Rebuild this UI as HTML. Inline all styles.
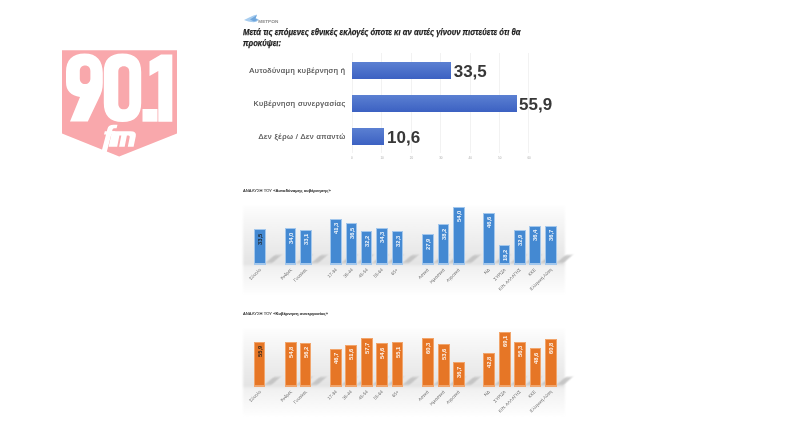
<!DOCTYPE html>
<html><head><meta charset="utf-8">
<style>
html,body{margin:0;padding:0;background:#fff;width:800px;height:421px;overflow:hidden;position:relative;font-family:"Liberation Sans",sans-serif}
.abs{position:absolute}
.title{position:absolute;left:243px;top:27.3px;font-weight:bold;font-style:italic;font-size:8.4px;line-height:10.4px;color:#1e1e1e;width:400px;white-space:nowrap;transform:scaleX(0.918);transform-origin:0 0;-webkit-text-stroke:0.25px #1e1e1e}
.lab{position:absolute;right:454.5px;font-size:7.6px;color:#4a4a4a;white-space:nowrap;letter-spacing:0.42px;-webkit-text-stroke:0.15px #4a4a4a}
.hbar{position:absolute;left:352px;background:linear-gradient(#5b80d2,#3c61c2);}
.val{position:absolute;font-size:17px;font-weight:bold;color:#383838;white-space:nowrap;line-height:16px;}
.grid{position:absolute;top:53px;height:100px;width:1px;background:#f2f2f2}
.tick{position:absolute;top:156px;font-size:3px;color:#aaa}
.t2{position:absolute;left:243px;font-size:4.1px;color:#333;white-space:nowrap;-webkit-text-stroke:0.1px #333;letter-spacing:0.07px}
.panel{position:absolute;left:243px;width:322px;filter:blur(1.2px)}

.bar{position:absolute;width:9.6px;border:1.4px solid;border-bottom-width:2.2px;margin-left:-0.2px}
.bb{background:#4489d2;border-color:#a3c7ec}
.ob{background:#e67626;border-color:#f1a56c}
.shadow{position:absolute;width:7px;height:8px;background:#c0c0c0;transform:skewX(-48deg);filter:blur(1.2px);opacity:0.85}
.bl{position:absolute;font-size:5.8px;font-weight:bold;transform:rotate(-90deg);transform-origin:0 0;white-space:nowrap;line-height:6px;opacity:0.9}
.xl{position:absolute;font-size:4.4px;color:#666;transform:rotate(-45deg) translateX(-100%);transform-origin:0 0;white-space:nowrap;line-height:4px}
#wrap{position:absolute;left:0;top:0;width:800px;height:421px;filter:blur(0.6px)}
</style></head><body><div id="wrap">
<svg class="abs" style="left:0;top:0" width="800" height="421">
  <polygon points="62,50.2 177,50.2 177,133.5 119.2,156.5 62,133.5" fill="#f9a8ac"/>
  <g fill="#fff">
    <path fill-rule="evenodd" d="M84.5,53.5 C97,53.5 102.8,61 102.8,73 L102.8,83 C102.8,89 101.5,93 99,98 L87.8,121.5 L70,121.5 L80,97 C71,95.5 66,91 66,82 L66,72 C66,60 72.5,53.5 84.5,53.5 Z M85.1,65.4 C82,65.4 79.8,67.5 79.8,71 L79.8,78.5 C79.8,82 82,84 85.1,84 C88.2,84 90.4,82 90.4,78.5 L90.4,71 C90.4,67.5 88.2,65.4 85.1,65.4 Z"/>
    <path fill-rule="evenodd" d="M122.5,53.5 C135.5,53.5 141.2,60 141.2,72 L141.2,103 C141.2,115 135.5,122 122.5,122 C109.5,122 103.8,115 103.8,103 L103.8,72 C103.8,60 109.5,53.5 122.5,53.5 Z M123.8,66.3 C120.3,66.3 118.3,68.5 118.3,72 L118.3,103.5 C118.3,107 120.3,109.3 123.8,109.3 C127.3,109.3 129.3,107 129.3,103.5 L129.3,72 C129.3,68.5 127.3,66.3 123.8,66.3 Z"/>
    <rect x="142.5" y="109" width="15" height="12.7"/>
    <path d="M161,54.6 L172.3,54.6 L172.3,121.7 L158.3,121.7 L158.3,71 L149.5,76 L149.5,61.2 Z"/>
    <path d="M101.3,152.4 L106.6,152.4 L111.3,134.5 L114.6,134.5 L115.4,131.2 L112.1,131.2 L112.5,129.6 Q113,128.3 114.6,128.3 L116.6,128.3 L117.5,124.8 L113.5,124.8 Q108.5,124.8 107.4,129 L106.8,131.2 L104.8,131.2 L104,134.5 L106,134.5 Z"/>
    <path d="M108.6,146.7 L112,131.2 L130.5,131.2 Q136.8,131.2 135.8,136.2 L133.6,146.7 L127.8,146.7 L129.7,137.3 Q130,135.6 128.6,135.6 L126.9,135.6 L124.7,146.7 L119.1,146.7 L121.3,135.6 L119.4,135.6 L117.2,146.7 Z"/>
  </g>
</svg>
<svg class="abs" style="left:240px;top:10px" width="45" height="16"><path d="M4,10 C8,8 12,5.5 17,4.5 L15.5,8 L19,9.5 L16,12 C12,12.5 7,11.5 4,10 Z" fill="#a8cdef"/><path d="M10,9.5 L17,5 L15.5,8.5 L18,10 L14,11.5 Z" fill="#6fa6dc"/><text x="18.3" y="12.6" font-size="3.6" font-family="Liberation Sans" font-weight="bold" fill="#8a8a8a" textLength="20" lengthAdjust="spacingAndGlyphs">ΜΕΤΡΩΝ</text></svg>
<div class="title">Μετά τις επόμενες εθνικές εκλογές όποτε κι αν αυτές γίνουν πιστεύετε ότι θα<br>προκύψει:</div>
<div class="grid" style="left:352.0px"></div><div class="tick" style="left:351.0px">0</div>
<div class="grid" style="left:381.4px"></div><div class="tick" style="left:380.4px">10</div>
<div class="grid" style="left:410.8px"></div><div class="tick" style="left:409.8px">20</div>
<div class="grid" style="left:440.2px"></div><div class="tick" style="left:439.2px">30</div>
<div class="grid" style="left:469.6px"></div><div class="tick" style="left:468.6px">40</div>
<div class="grid" style="left:499.0px"></div><div class="tick" style="left:498.0px">50</div>
<div class="grid" style="left:528.4px"></div><div class="tick" style="left:527.4px">60</div>
<div class="lab" style="top:66px">Αυτοδύναμη κυβέρνηση ή</div>
<div class="lab" style="top:99px">Κυβέρνηση συνεργασίας</div>
<div class="lab" style="top:132px">Δεν ξέρω / Δεν απαντώ</div>
<div class="hbar" style="top:62px;width:98.5px;height:17px"></div>
<div class="hbar" style="top:95px;width:164.5px;height:17px"></div>
<div class="hbar" style="top:128px;width:31.5px;height:17px"></div>
<div class="val" style="left:453.7px;top:64px">33,5</div>
<div class="val" style="left:519px;top:97px">55,9</div>
<div class="val" style="left:387px;top:130px">10,6</div>
<div class="t2" style="top:187.9px">ΑΝΑΛΥΣΗ ΤΟΥ «<b>Αυτοδύναμης κυβέρνησης</b>»</div>
<div class="panel" style="top:206px;height:88.30000000000001px;background:linear-gradient(#fdfdfd 0px,#f1f1f1 26px,#e4e4e4 58.30000000000001px,#f0f0f0 60.30000000000001px,#f7f7f7 74.30000000000001px,#fff 90.30000000000001px)"></div>
<div class="shadow" style="left:269.7px;top:254.8px"></div>
<div class="shadow" style="left:300.5px;top:254.8px"></div>
<div class="shadow" style="left:315.8px;top:254.8px"></div>
<div class="shadow" style="left:345.8px;top:254.8px"></div>
<div class="shadow" style="left:361.5px;top:254.8px"></div>
<div class="shadow" style="left:376.5px;top:254.8px"></div>
<div class="shadow" style="left:391.9px;top:254.8px"></div>
<div class="shadow" style="left:407.3px;top:254.8px"></div>
<div class="shadow" style="left:437.7px;top:254.8px"></div>
<div class="shadow" style="left:453.4px;top:254.8px"></div>
<div class="shadow" style="left:468.8px;top:254.8px"></div>
<div class="shadow" style="left:499.0px;top:254.8px"></div>
<div class="shadow" style="left:514.5px;top:254.8px"></div>
<div class="shadow" style="left:529.7px;top:254.8px"></div>
<div class="shadow" style="left:545.1px;top:254.8px"></div>
<div class="shadow" style="left:560.8px;top:254.8px"></div>
<div class="bar bb" style="left:254.2px;top:229.0px;height:33.3px"></div>
<div class="bl" style="left:257.0px;top:244.5px;color:#1a1a1a">33,5</div>
<div class="xl" style="left:258.8px;top:268.3px">Σύνολο</div>
<div class="bar bb" style="left:285.0px;top:228.4px;height:33.9px"></div>
<div class="bl" style="left:287.8px;top:243.9px;color:#fff">34,0</div>
<div class="xl" style="left:289.6px;top:268.3px">Άνδρες</div>
<div class="bar bb" style="left:300.3px;top:229.8px;height:32.5px"></div>
<div class="bl" style="left:303.1px;top:245.3px;color:#fff">33,1</div>
<div class="xl" style="left:304.9px;top:268.3px">Γυναίκες</div>
<div class="bar bb" style="left:330.3px;top:218.5px;height:43.8px"></div>
<div class="bl" style="left:333.1px;top:234.0px;color:#fff">41,3</div>
<div class="xl" style="left:334.9px;top:268.3px">17-34</div>
<div class="bar bb" style="left:346.0px;top:223.3px;height:39.0px"></div>
<div class="bl" style="left:348.8px;top:238.8px;color:#fff">36,5</div>
<div class="xl" style="left:350.6px;top:268.3px">35-44</div>
<div class="bar bb" style="left:361.0px;top:231.3px;height:31.0px"></div>
<div class="bl" style="left:363.8px;top:246.8px;color:#fff">32,2</div>
<div class="xl" style="left:365.6px;top:268.3px">45-54</div>
<div class="bar bb" style="left:376.4px;top:227.8px;height:34.5px"></div>
<div class="bl" style="left:379.2px;top:243.3px;color:#fff">34,3</div>
<div class="xl" style="left:381.0px;top:268.3px">55-64</div>
<div class="bar bb" style="left:391.8px;top:231.3px;height:31.0px"></div>
<div class="bl" style="left:394.6px;top:246.8px;color:#fff">32,3</div>
<div class="xl" style="left:396.4px;top:268.3px">65+</div>
<div class="bar bb" style="left:422.2px;top:234.1px;height:28.2px"></div>
<div class="bl" style="left:425.0px;top:249.6px;color:#fff">27,9</div>
<div class="xl" style="left:426.8px;top:268.3px">Αστικά</div>
<div class="bar bb" style="left:437.9px;top:224.1px;height:38.2px"></div>
<div class="bl" style="left:440.7px;top:239.6px;color:#fff">38,2</div>
<div class="xl" style="left:442.5px;top:268.3px">Ημιαστικά</div>
<div class="bar bb" style="left:453.3px;top:206.5px;height:55.8px"></div>
<div class="bl" style="left:456.1px;top:222.0px;color:#fff">54,0</div>
<div class="xl" style="left:457.9px;top:268.3px">Αγροτικά</div>
<div class="bar bb" style="left:483.5px;top:212.8px;height:49.5px"></div>
<div class="bl" style="left:486.3px;top:228.3px;color:#fff">46,6</div>
<div class="xl" style="left:488.1px;top:268.3px">ΝΔ</div>
<div class="bar bb" style="left:499.0px;top:245.0px;height:17.3px"></div>
<div class="bl" style="left:501.8px;top:260.5px;color:#fff">18,2</div>
<div class="xl" style="left:503.6px;top:268.3px">ΣΥΡΙΖΑ</div>
<div class="bar bb" style="left:514.2px;top:230.4px;height:31.9px"></div>
<div class="bl" style="left:517.0px;top:245.9px;color:#fff">32,9</div>
<div class="xl" style="left:518.8px;top:268.3px">ΚΙΝ. ΑΛΛΑΓΗΣ</div>
<div class="bar bb" style="left:529.6px;top:225.6px;height:36.7px"></div>
<div class="bl" style="left:532.4px;top:241.1px;color:#fff">36,4</div>
<div class="xl" style="left:534.2px;top:268.3px">ΚΚΕ</div>
<div class="bar bb" style="left:545.3px;top:225.6px;height:36.7px"></div>
<div class="bl" style="left:548.1px;top:241.1px;color:#fff">36,7</div>
<div class="xl" style="left:549.9px;top:268.3px">Ελληνική Λύση</div><div class="t2" style="top:311.0px">ΑΝΑΛΥΣΗ ΤΟΥ «<b>Κυβέρνηση συνεργασίας</b>»</div>
<div class="panel" style="top:329px;height:87.30000000000001px;background:linear-gradient(#fdfdfd 0px,#f1f1f1 26px,#e4e4e4 57.30000000000001px,#f0f0f0 59.30000000000001px,#f7f7f7 73.30000000000001px,#fff 89.30000000000001px)"></div>
<div class="shadow" style="left:269.4px;top:376.8px"></div>
<div class="shadow" style="left:300.7px;top:376.8px"></div>
<div class="shadow" style="left:315.4px;top:376.8px"></div>
<div class="shadow" style="left:345.8px;top:376.8px"></div>
<div class="shadow" style="left:361.1px;top:376.8px"></div>
<div class="shadow" style="left:376.6px;top:376.8px"></div>
<div class="shadow" style="left:391.8px;top:376.8px"></div>
<div class="shadow" style="left:407.4px;top:376.8px"></div>
<div class="shadow" style="left:437.9px;top:376.8px"></div>
<div class="shadow" style="left:453.7px;top:376.8px"></div>
<div class="shadow" style="left:468.7px;top:376.8px"></div>
<div class="shadow" style="left:498.9px;top:376.8px"></div>
<div class="shadow" style="left:514.7px;top:376.8px"></div>
<div class="shadow" style="left:529.6px;top:376.8px"></div>
<div class="shadow" style="left:545.2px;top:376.8px"></div>
<div class="shadow" style="left:560.7px;top:376.8px"></div>
<div class="bar ob" style="left:253.9px;top:341.7px;height:42.6px"></div>
<div class="bl" style="left:256.7px;top:357.2px;color:#1a1a1a">55,9</div>
<div class="xl" style="left:258.5px;top:390.3px">Σύνολο</div>
<div class="bar ob" style="left:285.2px;top:342.0px;height:42.3px"></div>
<div class="bl" style="left:288.0px;top:357.5px;color:#fff">54,8</div>
<div class="xl" style="left:289.8px;top:390.3px">Άνδρες</div>
<div class="bar ob" style="left:299.9px;top:342.6px;height:41.7px"></div>
<div class="bl" style="left:302.7px;top:358.1px;color:#fff">56,2</div>
<div class="xl" style="left:304.5px;top:390.3px">Γυναίκες</div>
<div class="bar ob" style="left:330.3px;top:348.9px;height:35.4px"></div>
<div class="bl" style="left:333.1px;top:364.4px;color:#fff">46,7</div>
<div class="xl" style="left:334.9px;top:390.3px">17-34</div>
<div class="bar ob" style="left:345.6px;top:344.6px;height:39.7px"></div>
<div class="bl" style="left:348.4px;top:360.1px;color:#fff">51,6</div>
<div class="xl" style="left:350.2px;top:390.3px">35-44</div>
<div class="bar ob" style="left:361.1px;top:338.2px;height:46.1px"></div>
<div class="bl" style="left:363.9px;top:353.7px;color:#fff">57,7</div>
<div class="xl" style="left:365.7px;top:390.3px">45-54</div>
<div class="bar ob" style="left:376.3px;top:343.1px;height:41.2px"></div>
<div class="bl" style="left:379.1px;top:358.6px;color:#fff">54,6</div>
<div class="xl" style="left:380.9px;top:390.3px">55-64</div>
<div class="bar ob" style="left:391.9px;top:342.3px;height:42.0px"></div>
<div class="bl" style="left:394.7px;top:357.8px;color:#fff">55,1</div>
<div class="xl" style="left:396.5px;top:390.3px">65+</div>
<div class="bar ob" style="left:422.4px;top:338.2px;height:46.1px"></div>
<div class="bl" style="left:425.2px;top:353.7px;color:#fff">60,3</div>
<div class="xl" style="left:427.0px;top:390.3px">Αστικά</div>
<div class="bar ob" style="left:438.2px;top:344.0px;height:40.3px"></div>
<div class="bl" style="left:441.0px;top:359.5px;color:#fff">53,6</div>
<div class="xl" style="left:442.8px;top:390.3px">Ημιαστικά</div>
<div class="bar ob" style="left:453.2px;top:362.1px;height:22.2px"></div>
<div class="bl" style="left:456.0px;top:377.6px;color:#fff">36,7</div>
<div class="xl" style="left:457.8px;top:390.3px">Αγροτικά</div>
<div class="bar ob" style="left:483.4px;top:352.6px;height:31.7px"></div>
<div class="bl" style="left:486.2px;top:368.1px;color:#fff">42,8</div>
<div class="xl" style="left:488.0px;top:390.3px">ΝΔ</div>
<div class="bar ob" style="left:499.2px;top:331.6px;height:52.7px"></div>
<div class="bl" style="left:502.0px;top:347.1px;color:#fff">69,1</div>
<div class="xl" style="left:503.8px;top:390.3px">ΣΥΡΙΖΑ</div>
<div class="bar ob" style="left:514.1px;top:341.7px;height:42.6px"></div>
<div class="bl" style="left:516.9px;top:357.2px;color:#fff">56,3</div>
<div class="xl" style="left:518.7px;top:390.3px">ΚΙΝ. ΑΛΛΑΓΗΣ</div>
<div class="bar ob" style="left:529.7px;top:348.0px;height:36.3px"></div>
<div class="bl" style="left:532.5px;top:363.5px;color:#fff">48,6</div>
<div class="xl" style="left:534.3px;top:390.3px">ΚΚΕ</div>
<div class="bar ob" style="left:545.2px;top:338.8px;height:45.5px"></div>
<div class="bl" style="left:548.0px;top:354.3px;color:#fff">60,8</div>
<div class="xl" style="left:549.8px;top:390.3px">Ελληνική Λύση</div>
</div></body></html>
